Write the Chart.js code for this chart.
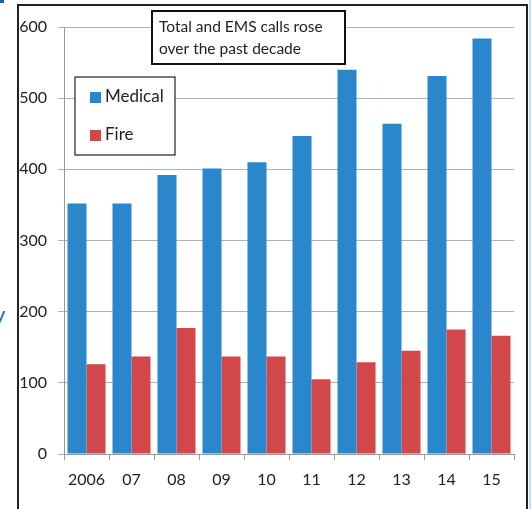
<!DOCTYPE html>
<html>
<head>
<meta charset="utf-8">
<script src="https://cdn.jsdelivr.net/npm/chart.js@4"></script>
<style>
	html, body { margin: 0; padding: 0; background: #fff; }
	#wrap { position: relative; width: 532px; height: 509px; overflow: hidden; }
	#frame { position: absolute; left: 17px; top: 4px; width: 507px; height: 520px; border: 2px solid #222; }
	#edge { position: absolute; left: 529px; top: 0; width: 2px; height: 509px; background: #bfe0f2; }
	#corner { position: absolute; left: 0; top: 0; width: 4px; height: 3px; background: #1f5fb0; }
	#cut { position: absolute; left: -6px; top: 300px; font: 22px Lato, sans-serif; color: #1f5fb0; }
	canvas { position: absolute; left: 0; top: 0; }
</style>
</head>
<body>
<div id="wrap">
	<div id="frame"></div>
	<div id="edge"></div>
	<div id="corner"></div>
	<div id="cut">y</div>
	<canvas id="calls-chart" width="532" height="509"></canvas>
</div>
<script>
const years = ['2006', '07', '08', '09', '10', '11', '12', '13', '14', '15'];
const medical = [352, 352, 392, 401, 410, 447, 540, 464, 531, 584];
const fire = [126, 137, 177, 137, 137, 105, 129, 145, 175, 166];
const titleLines = ['Total and EMS calls rose', 'over the past decade'];

const FONT = 'Lato, "Open Sans", sans-serif';

// title box and legend box drawn inside the plot
const boxes = {
	id: 'boxes',
	afterDraw(chart) {
		const ctx = chart.ctx;
		ctx.save();
		ctx.textBaseline = 'middle';

		// title box
		ctx.font = '15.5px ' + FONT;
		ctx.fillStyle = '#fff';
		ctx.fillRect(152, 11, 193, 53);
		ctx.strokeStyle = '#111';
		ctx.lineWidth = 2;
		ctx.strokeRect(152, 11, 193, 53);
		ctx.fillStyle = '#222';
		ctx.fillText(titleLines[0], 159, 27);
		ctx.fillText(titleLines[1], 159, 49);

		// legend box
		ctx.font = '17px ' + FONT;
		ctx.fillStyle = '#fff';
		ctx.fillRect(75, 77, 100, 78);
		ctx.strokeStyle = '#222';
		ctx.lineWidth = 1.2;
		ctx.strokeRect(75, 77, 100, 78);
		chart.data.datasets.forEach((ds, i) => {
			const y = 97 + i * 38;
			ctx.fillStyle = ds.backgroundColor;
			ctx.fillRect(90, y - 5, 11, 11);
			ctx.fillStyle = '#222';
			ctx.fillText(ds.label, 105, y);
		});
		ctx.restore();
	}
};

new Chart(document.getElementById('calls-chart').getContext('2d'), {
	type: 'bar',
	data: {
		labels: years,
		datasets: [{
				label: 'Medical',
				data: medical,
				backgroundColor: '#2a87cc',
				categoryPercentage: 0.845,
				barPercentage: 1.0
			},
			{
				label: 'Fire',
				data: fire,
				backgroundColor: '#d2474a',
				categoryPercentage: 0.845,
				barPercentage: 1.0
			}
		]
	},
	options: {
		responsive: false,
		animation: false,
		layout: { padding: { left: 0, right: 18, top: 27, bottom: 0 } },
		plugins: {
			legend: { display: false },
			tooltip: { enabled: false }
		},
		scales: {
			x: {
				afterFit: (s) => { s.height = 55; },
				grid: {
					offset: true,
					drawOnChartArea: false,
					drawTicks: true,
					tickLength: 6,
					color: '#999'
				},
				border: { color: '#999' },
				ticks: {
					color: '#222',
					font: { family: FONT, size: 16 },
					padding: 10
				}
			},
			y: {
				min: 0,
				max: 600,
				afterFit: (s) => { s.width = 64; },
				grid: {
					color: '#b0b0b0',
					tickLength: 6,
					lineWidth: 1
				},
				border: { color: '#999' },
				ticks: {
					stepSize: 100,
					color: '#222',
					font: { family: FONT, size: 16 },
					padding: 11
				}
			}
		}
	},
	plugins: [boxes]
});
</script>
</body>
</html>
